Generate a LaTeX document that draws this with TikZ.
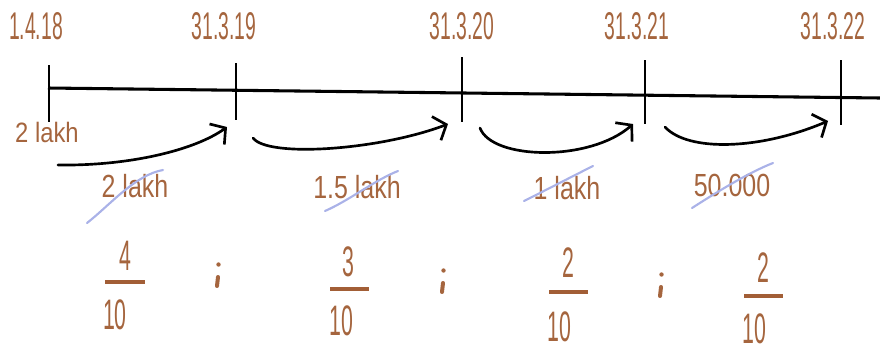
\documentclass[tikz,border=0pt]{standalone}
\usepackage{fontspec}
\usetikzlibrary{arrows.meta}
\newfontfamily\handN[FakeStretch=0.5]{Liberation Sans}
\newfontfamily\handM[FakeStretch=0.78]{Liberation Sans}
\newfontfamily\handW[FakeStretch=0.85]{Liberation Sans}
\definecolor{brn}{HTML}{A5653E}
\definecolor{brnbar}{HTML}{A25E36}
\definecolor{strk}{HTML}{AAB2E8}
\tikzset{
  datelbl/.style={text=brn,inner sep=0pt,font=\handN\fontsize{29}{30}\selectfont},
  amtlbl/.style={text=brn,inner sep=0pt,font=\handM\fontsize{24}{26}\selectfont},
  startlbl/.style={text=brn,inner sep=0pt,font=\handW\fontsize{21}{23}\selectfont},
  fraclbl/.style={text=brn,inner sep=0pt,font=\handN\fontsize{32}{33}\selectfont},
  axisline/.style={line width=2.3pt,black},
  tickline/.style={line width=2.1pt,black},
  curvearrow/.style={line width=2pt,black,line cap=round,-{Straight Barb[length=8pt,width=19pt,line width=2pt]}},
  strike/.style={line width=1.6pt,strk,line cap=round},
  fracbar/.style={line width=3pt,brnbar},
  colondot/.style={fill=brn,draw=none},
  colontail/.style={line width=3pt,brn,line cap=round}
}
\begin{document}
\begin{tikzpicture}[x=0.75pt,y=-0.75pt]
\useasboundingbox (0,0) rectangle (880,347);
% date labels
\node[datelbl] (d1) at (36,26) {1.4.18};
\node[datelbl] (d2) at (224,26) {31.3.19};
\node[datelbl] (d3) at (462,26) {31.3.20};
\node[datelbl] (d4) at (637,26) {31.3.21};
\node[datelbl] (d5) at (833,26) {31.3.22};
% axis
\coordinate (ls) at (48,88);
\coordinate (le) at (880,98);
\draw[axisline] (ls) -- (le);
\coordinate (t1a) at (49,65);  \coordinate (t1b) at (49,122);
\coordinate (t2a) at (236,63); \coordinate (t2b) at (236,120);
\coordinate (t3a) at (462,57); \coordinate (t3b) at (462,122);
\coordinate (t4a) at (645,60); \coordinate (t4b) at (645,124);
\coordinate (t5a) at (841,60); \coordinate (t5b) at (841,125);
\draw[tickline] (t1a) -- (t1b);
\draw[tickline] (t2a) -- (t2b);
\draw[tickline] (t3a) -- (t3b);
\draw[tickline] (t4a) -- (t4b);
\draw[tickline] (t5a) -- (t5b);
% start amount
\node[startlbl] (s0) at (47,132) {2 lakh};
% curved arrows
\coordinate (a1s) at (58,165);  \coordinate (a1e) at (227,127);
\coordinate (a2s) at (253,138); \coordinate (a2e) at (448,124);
\coordinate (a3s) at (480,128); \coordinate (a3e) at (633,124);
\coordinate (a4s) at (665,127); \coordinate (a4e) at (828,121);
\draw[curvearrow] (a1s) .. controls (130,166) and (195,150) .. (a1e);
\draw[curvearrow] (a2s) .. controls (268,158) and (380,150) .. (a2e);
\draw[curvearrow] (a3s) .. controls (492,160) and (590,162) .. (a3e);
\draw[curvearrow] (a4s) .. controls (688,152) and (760,150) .. (a4e);
% amounts with strikes
\node[amtlbl] (m1) at (135,186) {2 lakh};
\node[amtlbl] (m2) at (357,187) {1.5 lakh};
\node[amtlbl] (m3) at (567,188) {1 lakh};
\node[amtlbl] (m4) at (732,185) {50.000};
\draw[strike] (87,223) .. controls (110,205) and (135,175) .. (163,170);
\draw[strike] (325,211) .. controls (350,200) and (375,180) .. (398,171);
\draw[strike] (524,201) .. controls (550,188) and (575,175) .. (593,166);
\draw[strike] (692,208) .. controls (720,190) and (750,172) .. (773,163);
% fractions
\node[fraclbl] (n1) at (125,256) {4};
\node[fraclbl] (q1) at (115,315) {10};
\draw[fracbar] (105,282) -- (145,282);
\node[fraclbl] (n2) at (348,262) {3};
\node[fraclbl] (q2) at (341,321) {10};
\draw[fracbar] (330,289) -- (369,289);
\node[fraclbl] (n3) at (568,263) {2};
\node[fraclbl] (q3) at (559,327) {10};
\draw[fracbar] (549,292) -- (588,292);
\node[fraclbl] (n4) at (763,268) {2};
\node[fraclbl] (q4) at (754,329) {10};
\draw[fracbar] (744,296) -- (783,296);
% colons
\fill[colondot] (218.5,264.5) circle (2.2);
\draw[colontail] (218,277) -- (217,286);
\fill[colondot] (443.5,270.5) circle (2.2);
\draw[colontail] (443,283) -- (442,292);
\fill[colondot] (661.5,274.5) circle (2.2);
\draw[colontail] (661,287) -- (660,296);
\end{tikzpicture}
\end{document}
